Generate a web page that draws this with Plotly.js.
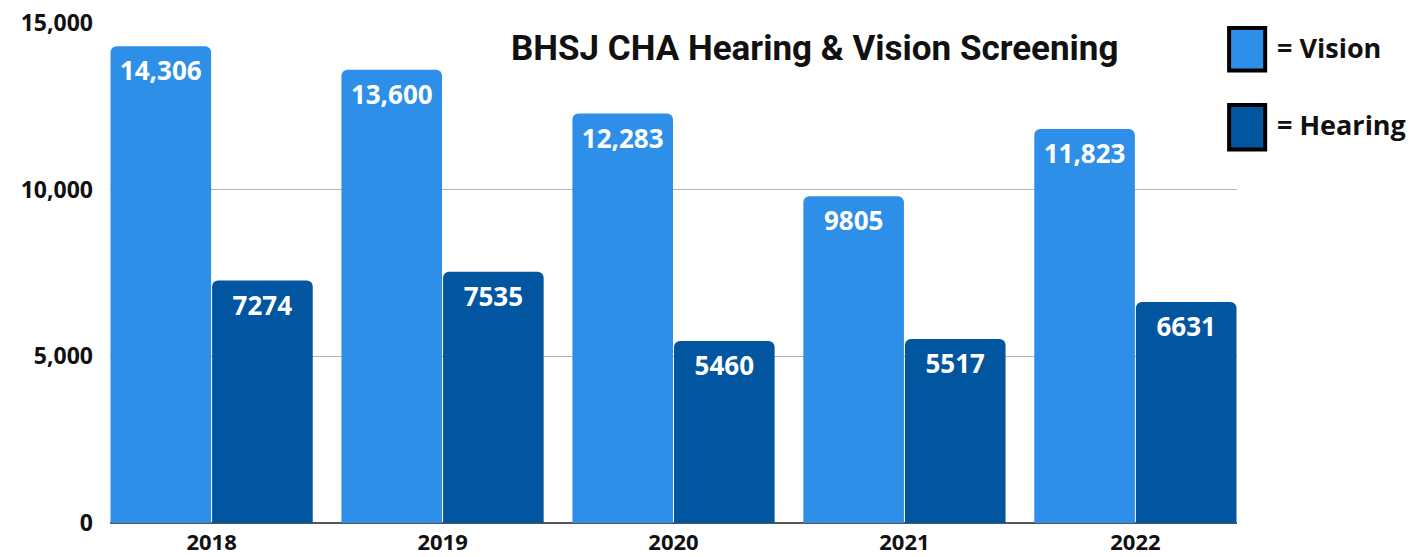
<!DOCTYPE html>
<html>
<head>
<meta charset="utf-8">
<script src="https://cdn.plot.ly/plotly-3.0.1.min.js"></script>
<style>
  html, body { margin: 0; padding: 0; background: #fff; }
  #chart { width: 1423px; height: 557px; }
</style>
</head>
<body>
<div id="chart"></div>
<script>
var years = ['2018', '2019', '2020', '2021', '2022'];
var vision = [14306, 13600, 12283, 9805, 11823];
var hearing = [7274, 7535, 5460, 5517, 6631];
var visionLabels = ['14,306', '13,600', '12,283', '9805', '11,823'];
var hearingLabels = ['7274', '7535', '5460', '5517', '6631'];

var visionColor = '#2E8FE8';
var hearingColor = '#02559F';

var labelFont = {family: 'Open Sans, sans-serif', size: 26, color: '#ffffff', weight: 700};

var trace1 = {
  type: 'bar',
  name: 'Vision',
  x: years,
  y: vision,
  text: visionLabels,
  textposition: 'inside',
  insidetextanchor: 'end',
  textangle: 0,
  textfont: labelFont,
  marker: {color: visionColor},
  hoverinfo: 'none'
};

var trace2 = {
  type: 'bar',
  name: 'Hearing',
  x: years,
  y: hearing,
  text: hearingLabels,
  textposition: 'inside',
  insidetextanchor: 'end',
  textangle: 0,
  textfont: labelFont,
  marker: {color: hearingColor},
  hoverinfo: 'none'
};

var data = [trace1, trace2];

var tickFont = {family: 'Open Sans, sans-serif', size: 23, color: '#111', weight: 700};
var xTickFont = {family: 'Open Sans, sans-serif', size: 22, color: '#111', weight: 700};

var layout = {
  width: 1423,
  height: 557,
  margin: {l: 110, r: 186, t: 23, b: 34},
  paper_bgcolor: '#ffffff',
  plot_bgcolor: '#ffffff',
  barmode: 'group',
  bargap: 0.12,
  bargroupgap: 0.01,
  barcornerradius: 6,
  showlegend: false,
  font: {family: 'Open Sans, sans-serif'},
  xaxis: {
    type: 'category',
    range: [-0.44, 4.44],
    tickfont: xTickFont,
    ticklabelstandoff: 4,
    ticks: '',
    showgrid: false,
    showline: false,
    fixedrange: true
  },
  yaxis: {
    range: [0, 15000],
    tickvals: [0, 5000, 10000, 15000],
    ticktext: ['0', '5,000', '10,000', '15,000'],
    tickfont: tickFont,
    ticklabelstandoff: 16,
    showgrid: true,
    gridcolor: '#b3b3b3',
    gridwidth: 1.5,
    zeroline: true,
    zerolinecolor: '#555555',
    zerolinewidth: 2,
    showline: false,
    fixedrange: true
  },
  annotations: [
    {
      text: 'BHSJ CHA Hearing & Vision Screening',
      xref: 'paper', yref: 'paper',
      x: 0.625, y: 0.95,
      xanchor: 'center', yanchor: 'middle',
      showarrow: false,
      font: {family: 'Roboto, sans-serif', size: 35, color: '#111', weight: 700}
    },
    {
      text: '= Vision',
      xref: 'paper', yref: 'paper',
      x: 1.034, y: 0.952,
      xanchor: 'left', yanchor: 'middle',
      showarrow: false,
      font: {family: 'Open Sans, sans-serif', size: 27, color: '#111', weight: 700}
    },
    {
      text: '= Hearing',
      xref: 'paper', yref: 'paper',
      x: 1.034, y: 0.796,
      xanchor: 'left', yanchor: 'middle',
      showarrow: false,
      font: {family: 'Open Sans, sans-serif', size: 27, color: '#111', weight: 700}
    }
  ],
  shapes: [
    {
      type: 'rect', xref: 'paper', yref: 'paper',
      x0: 0.993, x1: 1.025, y0: 0.905, y1: 0.990,
      fillcolor: visionColor,
      line: {color: '#000', width: 4}
    },
    {
      type: 'rect', xref: 'paper', yref: 'paper',
      x0: 0.993, x1: 1.025, y0: 0.747, y1: 0.836,
      fillcolor: hearingColor,
      line: {color: '#000', width: 4}
    }
  ]
};

Plotly.newPlot('chart', data, layout, {displayModeBar: false, staticPlot: true});
</script>
</body>
</html>
